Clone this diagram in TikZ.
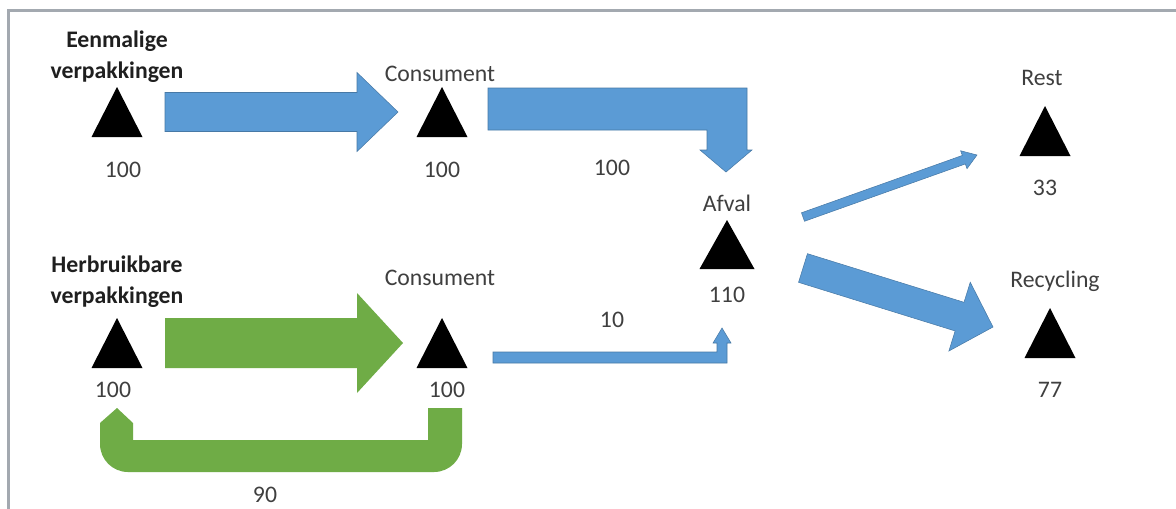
\documentclass[tikz,border=0pt]{standalone}
\usepackage{fontspec}
\setmainfont{Carlito}
\usetikzlibrary{calc}

\definecolor{flowblue}{HTML}{5B9BD5}
\definecolor{flowgreen}{HTML}{6FAC46}
\definecolor{framegray}{HTML}{A3A9B0}
\definecolor{txtgray}{HTML}{3F3F3F}

\tikzset{
  lbl/.style={text=txtgray, font=\fontsize{13.5}{16}\selectfont, inner sep=0pt},
  title/.style={text=black!88, font=\fontsize{13.5}{17.5}\selectfont\bfseries, align=center, inner sep=0pt},
  blueflow/.style={fill=flowblue, draw=flowblue!78!black, line width=0.3pt},
  greenflow/.style={fill=flowgreen},
}

%% straight block arrow: [style]{from}{to}{body half}{head half}{head length}
\newcommand{\blockarrow}[6][]{%
  \path (#2) coordinate (ba-a) (#3) coordinate (ba-b);
  \coordinate (ba-h) at ($(ba-b)!#6!(ba-a)$);
  \fill[#1] ($(ba-a)!#4!90:(ba-b)$) -- ($(ba-h)!#4!-90:(ba-a)$)
    -- ($(ba-h)!#5!-90:(ba-a)$) -- (ba-b) -- ($(ba-h)!#5!90:(ba-a)$)
    -- ($(ba-h)!#4!90:(ba-a)$) -- ($(ba-a)!#4!-90:(ba-b)$) -- cycle;}

\begin{document}
\begin{tikzpicture}[x=0.2mm, y=-0.2mm]
    \useasboundingbox (0,0) rectangle (1176,508);
    \fill[white] (0,0) rectangle (1176,508);
    %% frame
    \draw[framegray, line width=1.4pt] (8.5,510) -- (8.5,10.5) -- (1178,10.5);

    %% stations
    \coordinate (eenm)  at (117,112);
    \coordinate (cons1) at (442,112);
    \coordinate (herb)  at (117,343);
    \coordinate (cons2) at (442,343);
    \coordinate (afval) at (727,244.5);
    \coordinate (rest)  at (1045,131);
    \coordinate (recyc) at (1050,333);
    \foreach \t in {eenm,cons1,herb,cons2,rest,recyc}
        \fill (\t) +(-25.5,25) -- +(0,-25) -- +(25.5,25) -- cycle;
    \fill (afval) +(-27.5,24.5) -- +(0,-24.5) -- +(27.5,24.5) -- cycle;

    %% station labels
    \node[title] (eenm-t) at (117,57) {Eenmalige\\verpakkingen};
    \node[lbl] (eenm-n) at (123,170) {100};
    \node[lbl] (cons1-t) at (440,74) {Consument};
    \node[lbl] (cons1-n) at (442,170) {100};
    \node[title] (herb-t) at (117,282) {Herbruikbare\\verpakkingen};
    \node[lbl] (herb-n) at (113,390) {100};
    \node[lbl] (cons2-t) at (440,278) {Consument};
    \node[lbl] (cons2-n) at (447,390) {100};
    \node[lbl] (afval-t) at (727,203) {Afval};
    \node[lbl] (afval-n) at (727,295) {110};
    \node[lbl] (rest-t) at (1042,78) {Rest};
    \node[lbl] (rest-n) at (1045,188) {33};
    \node[lbl] (recyc-t) at (1055,281) {Recycling};
    \node[lbl] (recyc-n) at (1050,390) {77};

    %% flows
    \blockarrow[blueflow]{$(eenm)+(48,0)$}{$(cons1)+(-44,0)$}{3.9mm}{7.9mm}{8.2mm}
    \blockarrow[greenflow]{$(herb)+(48,0)$}{$(cons2)+(-39,0)$}{5mm}{10mm}{9.2mm}
    \blockarrow[blueflow]{$(afval)+(76,-27.5)$}{$(rest)+(-68,24)$}{0.9mm}{1.9mm}{2.8mm}
    \blockarrow[blueflow]{$(afval)+(76,23.5)$}{$(recyc)+(-57,-6)$}{3mm}{7.2mm}{7mm}
    \fill[blueflow] ($(cons1)+(46,-24)$) -- ++(259,0) -- ++(0,62) -- ++(5,0)
        -- ++(-26,22) -- ++(-26,-22) -- ++(7,0) -- ++(0,-20) -- ++(-219,0) -- cycle;
    \fill[blueflow] ($(cons2)+(51,9)$) -- ++(224,0) -- ++(0,-9) -- ++(-4,0)
        -- ++(9,-15) -- ++(9,15) -- ++(-4,0) -- ++(0,20) -- ++(-234,0) -- cycle;
    \fill[greenflow] ($(cons2)+(20,65)$) -- ++(0,36)
        arc[start angle=0, end angle=90, radius=28] -- ++(-306,0)
        arc[start angle=90, end angle=180, radius=28] -- ++(0,-21) -- ++(17,-15)
        -- ++(16,15) -- ++(0,17) -- ++(295,0) -- ++(0,-32) -- cycle;

    %% flow labels
    \node[lbl] (f-100) at (612,168) {100};
    \node[lbl] (f-10) at (612,320) {10};
    \node[lbl] (f-90) at (265,495) {90};
\end{tikzpicture}
\end{document}
